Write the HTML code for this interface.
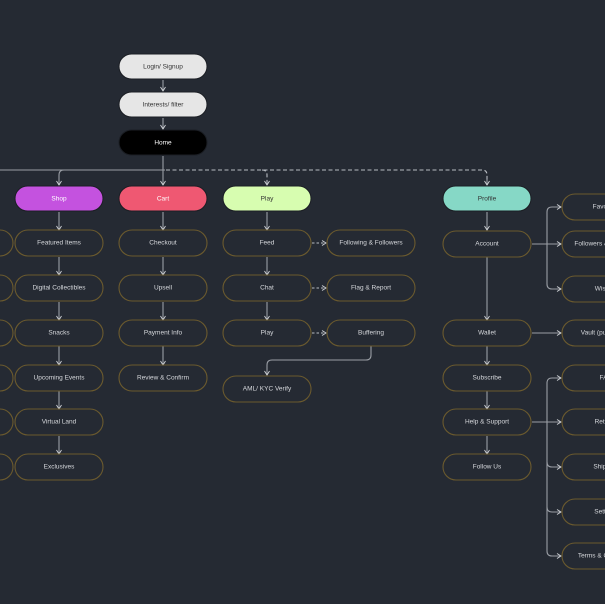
<!DOCTYPE html>
<html><head><meta charset="utf-8"><style>
html,body{margin:0;padding:0;background:#252a33;width:605px;height:604px;overflow:hidden}
svg text{font-family:"Liberation Sans",sans-serif;font-size:6.5px;text-anchor:middle;dominant-baseline:central}
</style></head><body>
<svg width="605" height="604" viewBox="0 0 605 604" xmlns="http://www.w3.org/2000/svg">
<defs>
<marker id="a" markerWidth="6" markerHeight="6" refX="5" refY="3" orient="auto" markerUnits="userSpaceOnUse">
<path d="M1,0.5 L5,3 L1,5.5" fill="none" stroke="#cfd2d6" stroke-width="0.9"/></marker>
</defs>
<g fill="none" stroke="#9a9ea5" stroke-width="1.1">
<!-- top chain -->
<path d="M163 80 V91" marker-end="url(#a)"/>
<path d="M163 118 V129" marker-end="url(#a)"/>
<path d="M163 156 V170"/>
<path d="M0 170 H165"/>
<path d="M64 170 Q59 170 59 175 V185" marker-end="url(#a)"/>
<path d="M163 170 V185" marker-end="url(#a)"/>
<path d="M166 170 H482 Q487 170 487 175 V185" stroke-dasharray="4,2.5" stroke="#b8bcc2"/>
<path d="M262 170 Q267 170 267 175 V185" stroke-dasharray="4,2.5" stroke="#b8bcc2" marker-end="url(#a)"/>
<path d="M487 180 V185" marker-end="url(#a)"/>
<!-- columns verticals -->
<path d="M59 212 V230" marker-end="url(#a)"/>
<path d="M59 257 V275" marker-end="url(#a)"/>
<path d="M59 302 V320" marker-end="url(#a)"/>
<path d="M59 346 V365" marker-end="url(#a)"/>
<path d="M59 391 V409" marker-end="url(#a)"/>
<path d="M59 436 V454" marker-end="url(#a)"/>
<path d="M163 212 V230" marker-end="url(#a)"/>
<path d="M163 257 V275" marker-end="url(#a)"/>
<path d="M163 302 V320" marker-end="url(#a)"/>
<path d="M163 346 V365" marker-end="url(#a)"/>
<path d="M267 212 V230" marker-end="url(#a)"/>
<path d="M267 257 V275" marker-end="url(#a)"/>
<path d="M267 302 V320" marker-end="url(#a)"/>
<path d="M371 346 V355 Q371 360 366 360 H272 Q267 360 267 365 V375" marker-end="url(#a)"/>
<path d="M487 212 V230" marker-end="url(#a)"/>
<path d="M487 257 V320" marker-end="url(#a)"/>
<path d="M487 346 V365" marker-end="url(#a)"/>
<path d="M487 391 V409" marker-end="url(#a)"/>
<path d="M487 436 V454" marker-end="url(#a)"/>
<!-- dashed right -->
<g stroke-dasharray="2.5,2" stroke="#b8bcc2">
<path d="M312 243 H326" marker-end="url(#a)"/>
<path d="M312 288 H326" marker-end="url(#a)"/>
<path d="M312 333 H326" marker-end="url(#a)"/>
</g>
<!-- profile branches -->
<path d="M532 244 H561" marker-end="url(#a)"/>
<path d="M547 244 V212 Q547 207 552 207 H561" marker-end="url(#a)"/>
<path d="M547 244 V284 Q547 289 552 289 H561" marker-end="url(#a)"/>
<path d="M532 333 H561" marker-end="url(#a)"/>
<path d="M532 422 H561" marker-end="url(#a)"/>
<path d="M547 422 V383 Q547 378 552 378 H561" marker-end="url(#a)"/>
<path d="M547 422 V551 Q547 556 552 556 H561" marker-end="url(#a)"/>
<path d="M547 462 Q547 467 552 467 H561" marker-end="url(#a)"/>
<path d="M547 507 Q547 512 552 512 H561" marker-end="url(#a)"/>
</g>
<!-- filled nodes -->
<g stroke="#1b1e24" stroke-width="1">
<rect x="119" y="54" width="88" height="25" rx="12.5" fill="#e6e6e6"/>
<rect x="119" y="92" width="88" height="25" rx="12.5" fill="#e6e6e6"/>
<rect x="119" y="130" width="88" height="25" rx="12.5" fill="#000"/>
<rect x="15" y="186" width="88" height="25" rx="12.5" fill="#c452df"/>
<rect x="119" y="186" width="88" height="25" rx="12.5" fill="#ef5872"/>
<rect x="223" y="186" width="88" height="25" rx="12.5" fill="#d7fdb0"/>
<rect x="443" y="186" width="88" height="25" rx="12.5" fill="#86d8c6"/>
</g>
<g fill="none" stroke="#6b5a2e" stroke-width="1.1">
<rect x="-75" y="230" width="88" height="26" rx="13"/>
<rect x="-75" y="275" width="88" height="26" rx="13"/>
<rect x="-75" y="320" width="88" height="26" rx="13"/>
<rect x="-75" y="365" width="88" height="26" rx="13"/>
<rect x="-75" y="409" width="88" height="26" rx="13"/>
<rect x="-75" y="454" width="88" height="26" rx="13"/>
<rect x="15" y="230" width="88" height="26" rx="13"/>
<rect x="15" y="275" width="88" height="26" rx="13"/>
<rect x="15" y="320" width="88" height="26" rx="13"/>
<rect x="15" y="365" width="88" height="26" rx="13"/>
<rect x="15" y="409" width="88" height="26" rx="13"/>
<rect x="15" y="454" width="88" height="26" rx="13"/>
<rect x="119" y="230" width="88" height="26" rx="13"/>
<rect x="119" y="275" width="88" height="26" rx="13"/>
<rect x="119" y="320" width="88" height="26" rx="13"/>
<rect x="119" y="365" width="88" height="26" rx="13"/>
<rect x="223" y="230" width="88" height="26" rx="13"/>
<rect x="223" y="275" width="88" height="26" rx="13"/>
<rect x="223" y="320" width="88" height="26" rx="13"/>
<rect x="223" y="376" width="88" height="26" rx="13"/>
<rect x="327" y="230" width="88" height="26" rx="13"/>
<rect x="327" y="275" width="88" height="26" rx="13"/>
<rect x="327" y="320" width="88" height="26" rx="13"/>
<rect x="443" y="231" width="88" height="26" rx="13"/>
<rect x="443" y="320" width="88" height="26" rx="13"/>
<rect x="443" y="365" width="88" height="26" rx="13"/>
<rect x="443" y="409" width="88" height="26" rx="13"/>
<rect x="443" y="454" width="88" height="26" rx="13"/>
<rect x="562" y="194" width="88" height="26" rx="13"/>
<rect x="562" y="231" width="88" height="26" rx="13"/>
<rect x="562" y="276" width="88" height="26" rx="13"/>
<rect x="562" y="320" width="88" height="26" rx="13"/>
<rect x="562" y="365" width="88" height="26" rx="13"/>
<rect x="562" y="409" width="88" height="26" rx="13"/>
<rect x="562" y="454" width="88" height="26" rx="13"/>
<rect x="562" y="499" width="88" height="26" rx="13"/>
<rect x="562" y="543" width="88" height="26" rx="13"/>
</g>
<g fill="#333">
<text x="163" y="67">Login/ Signup</text>
<text x="163" y="105">Interests/ filter</text>
<text x="267" y="199">Play</text>
<text x="487" y="199">Profile</text>
</g>
<g fill="#fff">
<text x="163" y="143">Home</text>
<text x="59" y="199">Shop</text>
<text x="163" y="199">Cart</text>
</g>
<g fill="#d6d8dc">
<text x="59" y="243">Featured Items</text>
<text x="59" y="288">Digital Collectibles</text>
<text x="59" y="333">Snacks</text>
<text x="59" y="378">Upcoming Events</text>
<text x="59" y="422">Virtual Land</text>
<text x="59" y="467">Exclusives</text>
<text x="163" y="243">Checkout</text>
<text x="163" y="288">Upsell</text>
<text x="163" y="333">Payment Info</text>
<text x="163" y="378">Review &amp; Confirm</text>
<text x="267" y="243">Feed</text>
<text x="267" y="288">Chat</text>
<text x="267" y="333">Play</text>
<text x="267" y="389">AML/ KYC Verify</text>
<text x="371" y="243">Following &amp; Followers</text>
<text x="371" y="288">Flag &amp; Report</text>
<text x="371" y="333">Buffering</text>
<text x="487" y="244">Account</text>
<text x="487" y="333">Wallet</text>
<text x="487" y="378">Subscribe</text>
<text x="487" y="422">Help &amp; Support</text>
<text x="487" y="467">Follow Us</text>
<text x="606" y="207">Favorites</text>
<text x="606" y="244">Followers &amp; Following</text>
<text x="606" y="289">Wishlist</text>
<text x="606" y="333">Vault (purchases)</text>
<text x="606" y="378">FAQ</text>
<text x="606" y="422">Returns</text>
<text x="606" y="467">Shipping</text>
<text x="606" y="512">Settings</text>
<text x="606" y="556">Terms &amp; Conditions</text>
</g>
</svg>
</body></html>
